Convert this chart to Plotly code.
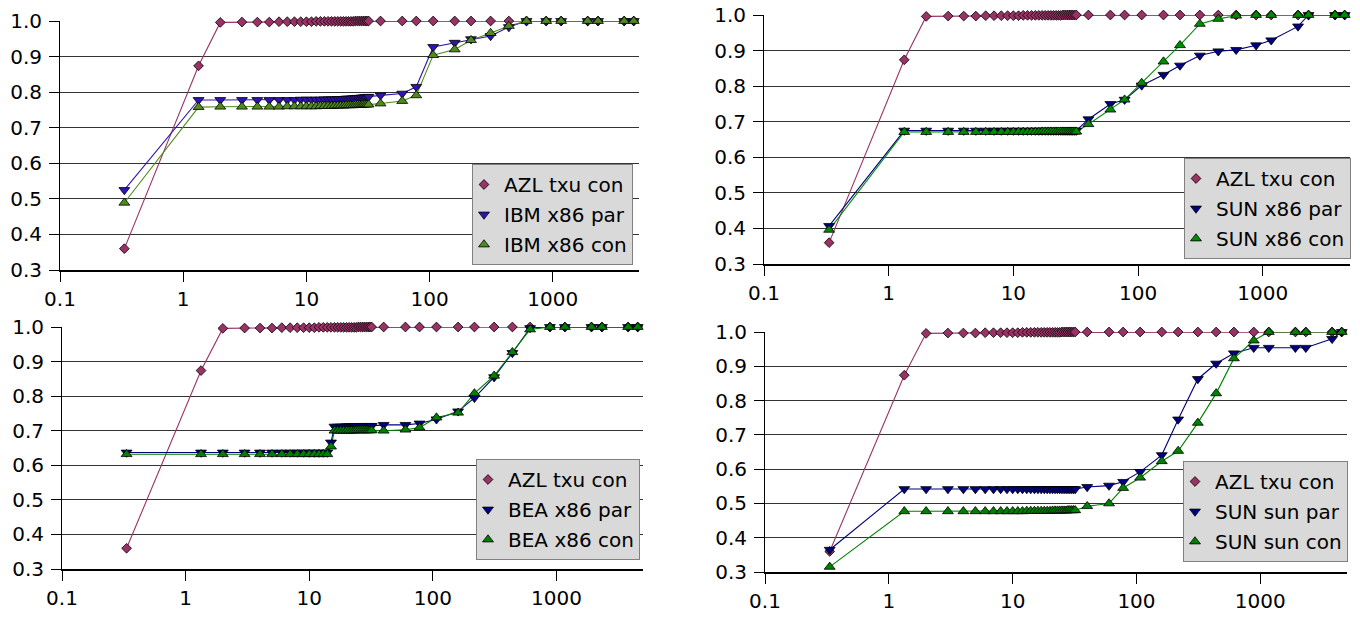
import plotly.graph_objects as go

# ---------------- data ----------------
x_vals = [0.333, 1.333,
          2, 3, 4, 5, 6, 7, 8, 9, 10, 11, 12, 13, 14, 15, 16, 17, 18, 19, 20,
          21, 22, 23, 24, 25, 26, 27, 28, 29, 30, 31, 32,
          40, 60, 78, 107, 160, 217, 313, 440, 612, 885, 1170, 1920, 2330, 3800, 4540]

azl_txu_con = [0.360, 0.874,
               0.996, 0.997, 0.997, 0.997, 0.998, 0.998, 0.998, 0.998, 0.998, 0.998,
               0.999, 0.999, 0.999, 0.999, 0.999, 0.999, 0.999, 0.999, 0.999, 0.999,
               0.999, 0.999, 0.999, 1.000, 1.000, 1.000, 1.000, 1.000, 1.000, 1.000, 1.000,
               1.000, 1.000, 1.000, 1.000, 1.000, 1.000, 1.000, 1.000, 1.000, 1.000, 1.000,
               1.000, 1.000, 1.000, 1.000]

ibm_x86_par = [0.525, 0.778,
               0.778, 0.778, 0.778, 0.778, 0.778, 0.778, 0.778, 0.779, 0.779, 0.779,
               0.779, 0.779, 0.780, 0.780, 0.780, 0.780, 0.781, 0.781, 0.781, 0.782,
               0.782, 0.782, 0.783, 0.783, 0.784, 0.784, 0.785, 0.785, 0.786, 0.786, 0.787,
               0.791, 0.796, 0.815, 0.927, 0.939, 0.949, 0.958, 0.983, 1.000, 1.000, 1.000,
               1.000, 1.000, 1.000, 1.000]

ibm_x86_con = [0.489, 0.758,
               0.759, 0.759, 0.759, 0.759, 0.759, 0.760, 0.760, 0.760, 0.760, 0.760,
               0.760, 0.761, 0.761, 0.761, 0.761, 0.762, 0.762, 0.762, 0.762, 0.763,
               0.763, 0.763, 0.763, 0.764, 0.764, 0.764, 0.764, 0.765, 0.765, 0.765, 0.765,
               0.768, 0.775, 0.791, 0.904, 0.920, 0.946, 0.966, 0.986, 1.000, 1.000, 1.000,
               1.000, 1.000, 1.000, 1.000]

sun_x86_par = [0.407, 0.675,
               0.675, 0.675, 0.675, 0.675, 0.675, 0.675, 0.675, 0.675, 0.675, 0.675,
               0.675, 0.675, 0.675, 0.675, 0.675, 0.675, 0.675, 0.675, 0.675, 0.675,
               0.675, 0.675, 0.675, 0.675, 0.675, 0.675, 0.675, 0.675, 0.675, 0.675, 0.675,
               0.707, 0.750, 0.762, 0.802, 0.832, 0.858, 0.886, 0.898, 0.902, 0.915, 0.929,
               0.968, 1.000, 1.000, 1.000]

sun_x86_con = [0.396, 0.671,
               0.671, 0.671, 0.671, 0.671, 0.671, 0.671, 0.671, 0.671, 0.671, 0.671,
               0.671, 0.671, 0.671, 0.671, 0.671, 0.672, 0.672, 0.672, 0.672, 0.672,
               0.672, 0.672, 0.672, 0.672, 0.672, 0.672, 0.672, 0.672, 0.672, 0.672, 0.672,
               0.693, 0.734, 0.762, 0.809, 0.869, 0.915, 0.975, 0.989, 0.998, 1.000, 1.000,
               1.000, 1.000, 1.000, 1.000]

bea_x86_par = [0.637, 0.637,
               0.637, 0.637, 0.637, 0.637, 0.637, 0.637, 0.637, 0.637, 0.637, 0.637,
               0.637, 0.637, 0.637, 0.666, 0.712, 0.712, 0.712, 0.712, 0.713, 0.713,
               0.713, 0.713, 0.713, 0.713, 0.714, 0.714, 0.714, 0.714, 0.714, 0.714, 0.714,
               0.717, 0.717, 0.721, 0.733, 0.756, 0.795, 0.855, 0.925, 0.997, 1.000, 1.000,
               1.000, 1.000, 1.000, 1.000]

bea_x86_con = [0.632, 0.632,
               0.632, 0.632, 0.632, 0.632, 0.632, 0.632, 0.632, 0.632, 0.632, 0.632,
               0.632, 0.632, 0.632, 0.654, 0.700, 0.700, 0.700, 0.700, 0.700, 0.700,
               0.700, 0.700, 0.701, 0.701, 0.701, 0.701, 0.701, 0.701, 0.701, 0.701, 0.701,
               0.700, 0.703, 0.709, 0.738, 0.752, 0.808, 0.859, 0.927, 0.993, 1.000, 1.000,
               1.000, 1.000, 1.000, 1.000]

sun_sun_par = [0.365, 0.542,
               0.542, 0.542, 0.542, 0.542, 0.542, 0.542, 0.542, 0.542, 0.542, 0.542,
               0.542, 0.542, 0.542, 0.542, 0.542, 0.542, 0.542, 0.542, 0.542, 0.542,
               0.542, 0.542, 0.542, 0.542, 0.542, 0.542, 0.542, 0.542, 0.542, 0.542, 0.542,
               0.548, 0.552, 0.563, 0.592, 0.641, 0.745, 0.863, 0.908, 0.938, 0.954, 0.954,
               0.954, 0.954, 0.980, 1.000]

sun_sun_con = [0.315, 0.477,
               0.477, 0.477, 0.477, 0.477, 0.477, 0.477, 0.477, 0.477, 0.477, 0.477,
               0.477, 0.478, 0.478, 0.478, 0.478, 0.478, 0.478, 0.478, 0.478, 0.479,
               0.479, 0.479, 0.479, 0.479, 0.479, 0.479, 0.480, 0.480, 0.480, 0.480, 0.480,
               0.492, 0.500, 0.545, 0.575, 0.623, 0.653, 0.735, 0.821, 0.923, 0.975, 1.000,
               1.000, 1.000, 1.000, 1.000]

panels = [
    # (axis suffix, legend id, [(name, y, symbol, color)])
    ("", "legend", [("AZL txu con", azl_txu_con, "diamond", "#993366"),
                    ("IBM x86 par", ibm_x86_par, "triangle-down", "#2E14B0"),
                    ("IBM x86 con", ibm_x86_con, "triangle-up", "#4F8A1E")]),
    ("2", "legend2", [("AZL txu con", azl_txu_con, "diamond", "#993366"),
                      ("SUN x86 par", sun_x86_par, "triangle-down", "#000080"),
                      ("SUN x86 con", sun_x86_con, "triangle-up", "#008C00")]),
    ("3", "legend3", [("AZL txu con", azl_txu_con, "diamond", "#993366"),
                      ("BEA x86 par", bea_x86_par, "triangle-down", "#000080"),
                      ("BEA x86 con", bea_x86_con, "triangle-up", "#008000")]),
    ("4", "legend4", [("AZL txu con", azl_txu_con, "diamond", "#993366"),
                      ("SUN sun par", sun_sun_par, "triangle-down", "#000080"),
                      ("SUN sun con", sun_sun_con, "triangle-up", "#008000")]),
]

x_tickvals = [0.1, 1, 10, 100, 1000]
x_ticktext = ["0.1", "1", "10", "100", "1000"]

W, H = 1360, 619
# plot-area pixel boxes (left, right, top, bottom)
boxes = [(60, 639, 21, 270), (764, 1350, 15, 264), (62, 643, 327, 569), (765, 1347, 332, 572)]
# legend (right, top) in px
legpos = [(633, 164), (1351, 158), (640, 459), (1348, 461)]

FONT = "DejaVu Sans"
fig = go.Figure()

for (suf, leg, series) in panels:
    # connecting lines first (no legend entry)
    for i, (name, yv, sym, col) in enumerate(series):
        fig.add_trace(go.Scatter(
            x=x_vals, y=yv, name=name, mode="lines",
            xaxis="x" + suf, yaxis="y" + suf, legend=leg, showlegend=False,
            line=dict(color=col, width=1.1), hoverinfo="skip",
        ))
    # markers (legend shows marker only)
    for i, (name, yv, sym, col) in enumerate(series):
        fig.add_trace(go.Scatter(
            x=x_vals, y=yv, name=name, mode="markers",
            xaxis="x" + suf, yaxis="y" + suf, legend=leg,
            legendgroup=leg + str(i),
            marker=dict(symbol=sym, color=col, size=7.5 if sym == "diamond" else 9.5,
                        line=dict(color="#000000", width=0.8)),
            cliponaxis=False,
        ))

layout = dict(
    width=W, height=H, margin=dict(l=0, r=0, t=0, b=0, autoexpand=False),
    paper_bgcolor="white", plot_bgcolor="white",
    font=dict(family=FONT, size=20, color="black"),
    showlegend=True,
)

for k, (suf, leg, _) in enumerate(panels):
    l, r, t, b = boxes[k]
    xa = "xaxis" + suf
    ya = "yaxis" + suf
    layout[xa] = dict(
        type="log", range=[-1, 3.70], domain=[l / W, r / W], anchor="y" + suf,
        tickvals=x_tickvals, ticktext=x_ticktext,
        showline=True, linecolor="black", linewidth=2,
        ticks="outside", ticklen=10, tickcolor="black", tickwidth=1,
        showgrid=False, zeroline=False, tickfont=dict(size=20, family=FONT),
        automargin=False,
    )
    layout[ya] = dict(
        range=[0.3, 1.0], domain=[1 - b / H, 1 - t / H], anchor="x" + suf,
        tick0=0.3, dtick=0.1, tickformat=".1f",
        showline=True, linecolor="black", linewidth=1,
        ticks="outside", ticklen=10, tickcolor="black", tickwidth=1,
        showgrid=True, gridcolor="#333333", gridwidth=1,
        zeroline=False, tickfont=dict(size=20, family=FONT),
        ticklabelstandoff=3, automargin=False,
    )
    lr, lt = legpos[k]
    layout[leg] = dict(
        x=lr / W, y=1 - lt / H, xanchor="right", yanchor="top",
        bgcolor="#d9d9d9", bordercolor="#808080", borderwidth=1,
        font=dict(size=20, family=FONT, color="black"),
        traceorder="grouped", tracegroupgap=1, indentation=-9,
    )

fig.update_layout(**layout)
fig.write_html(
    "out.html",
    config={"displayModeBar": False},
    post_script="document.body.style.margin='0';document.body.style.padding='0';"
                "document.body.style.overflow='hidden';",
)
